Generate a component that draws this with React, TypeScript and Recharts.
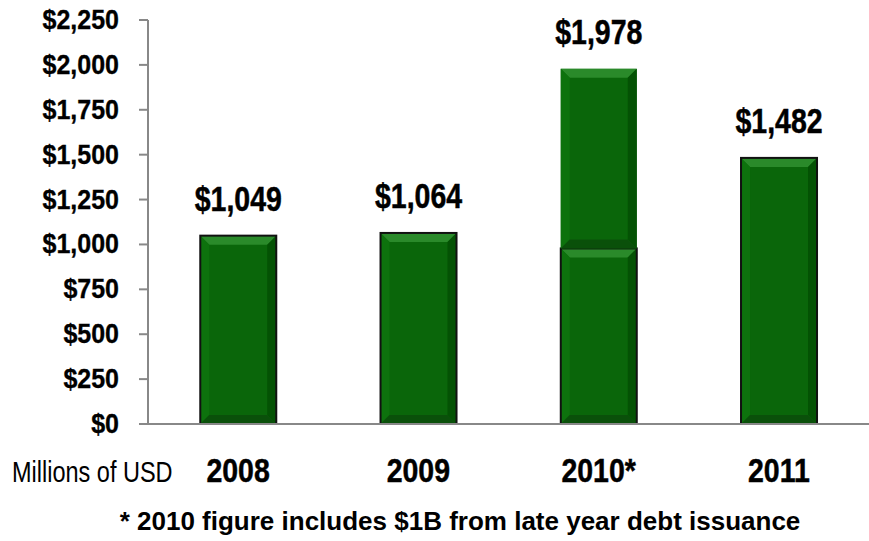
import React from 'react';
import { BarChart, Bar, XAxis, YAxis, LabelList } from 'recharts';

const years = ['2008', '2009', '2010*', '2011'];
const baseValues = [1049, 1064, 978, 1482];
const extraValues = [0, 0, 1000, 0];
const totalLabels = ['$1,049', '$1,064', '$1,978', '$1,482'];
const yTicks = [0, 250, 500, 750, 1000, 1250, 1500, 1750, 2000, 2250];

const data = years.map((y, i) => ({
  year: y,
  base: baseValues[i],
  extra: extraValues[i],
  label: totalLabels[i],
}));

const FONT = '"Liberation Sans", Arial, sans-serif';

const fmt = (v: number) => '$' + v.toLocaleString('en-US');

const BevelBar = (border: boolean) => (props: any) => {
  const { x, y, width, height } = props;
  if (!height || height <= 0) return null;
  const b = Math.min(9, width / 4, height / 4);
  const x2 = x + width;
  const y2 = y + height;
  return (
    <g>
      <rect x={x} y={y} width={width} height={height} fill="#0a660a" />
      <polygon points={`${x},${y} ${x2},${y} ${x2 - b},${y + b} ${x + b},${y + b}`} fill="#2a8a2a" />
      <polygon points={`${x},${y} ${x + b},${y + b} ${x + b},${y2 - b} ${x},${y2}`} fill="#0d720d" />
      <polygon points={`${x2},${y} ${x2},${y2} ${x2 - b},${y2 - b} ${x2 - b},${y + b}`} fill="#045204" />
      <polygon points={`${x},${y2} ${x + b},${y2 - b} ${x2 - b},${y2 - b} ${x2},${y2}`} fill="#0a500a" />
      {border && (
        <rect x={x} y={y} width={width} height={height} fill="none" stroke="#111" strokeWidth={2} />
      )}
    </g>
  );
};

const renderLabel = (which: 'base' | 'extra') => (props: any) => {
  const { x, y, width, index } = props;
  const d = data[index];
  const show = which === 'extra' ? d.extra > 0 : d.extra === 0;
  if (!show) return null;
  return (
    <g transform={`translate(${x + width / 2},${y - 25}) scale(1,1.2)`}>
      <text x={0} y={0} textAnchor="middle" fontFamily={FONT} fontWeight="bold" fontSize={28.5} fill="#000" stroke="#000" strokeWidth={0.4}>
        {d.label}
      </text>
    </g>
  );
};

const XTick = (props: any) => {
  const { x, y, payload } = props;
  return (
    <g transform={`translate(${x},${y + 58}) scale(1,1.17)`}>
      <text x={0} y={0} textAnchor="middle" fontFamily={FONT} fontWeight="bold" fontSize={28.5} fill="#000" stroke="#000" strokeWidth={0.4}>
        {payload.value}
      </text>
    </g>
  );
};

const YTick = (props: any) => {
  const { x, y, payload } = props;
  return (
    <g transform={`translate(${x},${y + 9}) scale(1,1.08)`}>
      <text x={0} y={0} textAnchor="end" fontFamily={FONT} fontWeight="bold" fontSize={25} fill="#000" stroke="#000" strokeWidth={0.3}>
        {fmt(payload.value)}
      </text>
    </g>
  );
};

export default function App() {
  return (
    <div style={{ position: 'absolute', left: 0, top: 0, width: 869, height: 541, background: '#fff' }}>
      <BarChart
        width={869}
        height={541}
        data={data}
        margin={{ top: 20, right: 0, bottom: 57, left: 0 }}
        barCategoryGap="29%"
      >
        <XAxis
          dataKey="year"
          axisLine={{ stroke: '#888', strokeWidth: 2 }}
          tickLine={false}
          tickSize={0}
          tickMargin={0}
          height={60}
          tick={<XTick />}
        />
        <YAxis
          width={148}
          domain={[0, 2250]}
          ticks={yTicks}
          interval={0}
          axisLine={{ stroke: '#888', strokeWidth: 2 }}
          tickLine={{ stroke: '#888', strokeWidth: 2 }}
          tickSize={9}
          tickMargin={20}
          tick={<YTick />}
        />
        <Bar dataKey="base" stackId="a" isAnimationActive={false} shape={BevelBar(true)}>
          <LabelList dataKey="base" content={renderLabel('base')} />
        </Bar>
        <Bar dataKey="extra" stackId="a" isAnimationActive={false} shape={BevelBar(false)}>
          <LabelList dataKey="extra" content={renderLabel('extra')} />
        </Bar>
      </BarChart>
      <svg width={869} height={541} style={{ position: 'absolute', left: 0, top: 0, pointerEvents: 'none' }}>
        <g transform="translate(12,482) scale(1,1.28)">
          <text x={0} y={0} fontFamily={FONT} fontSize={23.5} fill="#000">
            Millions of USD
          </text>
        </g>
        <text x={460} y={530} textAnchor="middle" fontFamily={FONT} fontWeight="bold" fontSize={26} fill="#000">
          * 2010 figure includes $1B from late year debt issuance
        </text>
      </svg>
    </div>
  );
}
